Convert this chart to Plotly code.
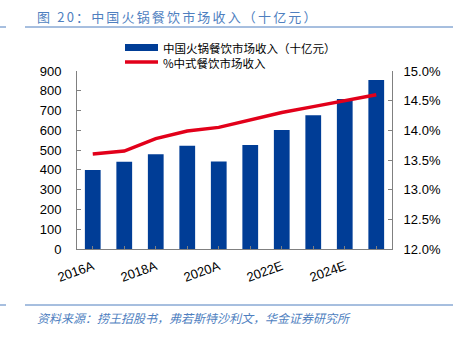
import plotly.graph_objects as go

years = ["2016A", "2017A", "2018A", "2019A", "2020A", "2021E", "2022E", "2023E", "2024E", "2025E"]
revenue = [400, 441, 479, 522, 443, 526, 602, 676, 758, 854]
share = [13.60, 13.65, 13.86, 13.99, 14.05, 14.18, 14.30, 14.40, 14.50, 14.60]
tick_labels = ["2016A", "", "2018A", "", "2020A", "", "2022E", "", "2024E", ""]
left_ticks = [0, 100, 200, 300, 400, 500, 600, 700, 800, 900]
right_ticks = [12.0, 12.5, 13.0, 13.5, 14.0, 14.5, 15.0]

BLUE = "#003d96"
RED = "#e2001a"
TITLE_BLUE = "#4f7fbf"
NUM_FONT = "Liberation Sans, Arial, sans-serif"
CJK_FONT = "Noto Sans CJK SC, sans-serif"
HS = "\u2006"

fig = go.Figure()
fig.add_trace(go.Bar(x=years, y=revenue, marker=dict(color=BLUE, line=dict(width=0)),
                     width=0.5, name="中国火锅餐饮市场收入（十亿元）", showlegend=False))
fig.add_trace(go.Scatter(x=years, y=share, yaxis="y2", mode="lines",
                         line=dict(color=RED, width=3.5), name="%中式餐饮市场收入",
                         showlegend=False))

fig.update_layout(
    width=453, height=340,
    margin=dict(l=77, r=61, t=71, b=91),
    paper_bgcolor="white", plot_bgcolor="white",
    bargap=0.5,
    xaxis=dict(tickmode="array", tickvals=years, ticktext=tick_labels, tickangle=-20,
               showline=True, linecolor="#808080", linewidth=1, ticks="inside",
               ticklen=3, tickcolor="#808080", showgrid=False, ticklabelstandoff=4,
               tickfont=dict(family=NUM_FONT, size=13, color="black")),
    yaxis=dict(range=[0, 900], tickvals=left_ticks, showline=True, linecolor="#808080",
               ticks="inside", ticklen=4, tickcolor="#808080", showgrid=False, zeroline=False,
               ticklabelstandoff=12,
               tickfont=dict(family=NUM_FONT, size=13, color="black")),
    yaxis2=dict(range=[12, 15], tickvals=right_ticks,
                ticktext=[f"{v:.1f}%" for v in right_ticks],
                overlaying="y", side="right", showline=True, linecolor="#808080",
                ticks="inside", ticklen=4, tickcolor="#808080", showgrid=False, zeroline=False,
                ticklabelstandoff=8,
                tickfont=dict(family=NUM_FONT, size=13, color="black")),
)

shapes = [
    dict(type="line", xref="paper", yref="paper", x0=-52/315, x1=376/315, y0=1+(71-27)/178, y1=1+(71-27)/178,
         line=dict(color=TITLE_BLUE, width=1)),
    dict(type="line", xref="paper", yref="paper", x0=-77/315, x1=-71/315, y0=1+(71-27)/178, y1=1+(71-27)/178,
         line=dict(color=TITLE_BLUE, width=1)),
    dict(type="line", xref="paper", yref="paper", x0=-52/315, x1=376/315, y0=-(305-249)/178, y1=-(305-249)/178,
         line=dict(color=TITLE_BLUE, width=1)),
    dict(type="line", xref="paper", yref="paper", x0=-77/315, x1=-71/315, y0=-(305-249)/178, y1=-(305-249)/178,
         line=dict(color=TITLE_BLUE, width=1)),
    # legend swatches
    dict(type="rect", xref="paper", yref="paper", x0=(125-77)/315, x1=(158-77)/315,
         y0=(249-51)/178, y1=(249-44)/178, fillcolor=BLUE, line=dict(width=0)),
    dict(type="line", xref="paper", yref="paper", x0=(125-77)/315, x1=(158-77)/315,
         y0=(249-62)/178, y1=(249-62)/178, line=dict(color=RED, width=3.5)),
]
fig.update_layout(shapes=shapes)

title_text = HS.join("图 20：中国火锅餐饮市场收入（十亿元）")
source_text = "资料来源：捞王招股书，弗若斯特沙利文，华金证券研究所"

annotations = [
    dict(text=title_text, xref="paper", yref="paper",
         x=(35-77)/315, y=(249-16)/178, xanchor="left", yanchor="middle", showarrow=False,
         font=dict(family=CJK_FONT, size=13, color=TITLE_BLUE)),
    dict(text="中国火锅餐饮市场收入（十亿元）", xref="paper", yref="paper",
         x=(161-77)/315, y=(249-48)/178, xanchor="left", yanchor="middle", showarrow=False,
         font=dict(family=CJK_FONT, size=11.5, color="black")),
    dict(text="%中式餐饮市场收入", xref="paper", yref="paper",
         x=(161-77)/315, y=(249-63)/178, xanchor="left", yanchor="middle", showarrow=False,
         font=dict(family=CJK_FONT, size=11.5, color="black")),
    dict(text="<i>" + source_text + "</i>", xref="paper", yref="paper",
         x=(35-77)/315, y=-(317-249)/178, xanchor="left", yanchor="middle", showarrow=False,
         font=dict(family=CJK_FONT, size=12, color=TITLE_BLUE)),
]
fig.update_layout(annotations=annotations)

fig.write_html("out.html")
